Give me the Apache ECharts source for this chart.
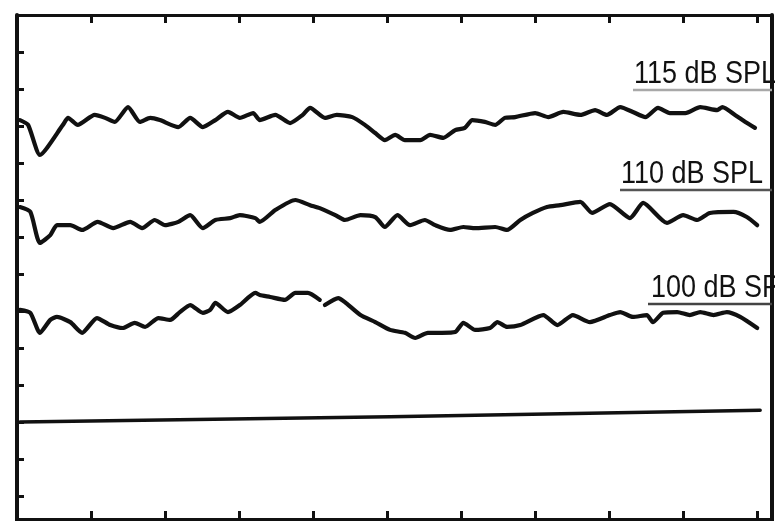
<!DOCTYPE html>
<html>
<head>
<meta charset="utf-8">
<script src="https://cdn.jsdelivr.net/npm/echarts@6/dist/echarts.min.js"></script>
<style>
html,body{margin:0;padding:0;background:#fff;}
#chart{width:784px;height:521px;}
</style>
</head>
<body>
<div id="chart"></div>
<script>
// Series values: [time, amplitude]
const curve115 = [[0.4,8.16],[1.5,8.03],[3.1,7.22],[6.2,8.03],[6.9,8.22],[8.2,8.03],[10.5,8.30],[11.9,8.22],[13.2,8.11],[15.0,8.51],[16.6,8.11],[18.0,8.22],[19.3,8.16],[21.8,7.97],[23.4,8.22],[25.1,7.97],[26.8,8.16],[28.5,8.38],[30.1,8.22],[31.9,8.35],[32.8,8.16],[34.9,8.30],[36.9,8.08],[38.6,8.30],[39.6,8.49],[41.6,8.22],[43.2,8.30],[45.3,8.24],[47.0,8.03],[48.4,7.81],[49.7,7.62],[51.1,7.76],[52.4,7.62],[54.5,7.62],[55.8,7.76],[57.6,7.68],[59.2,7.89],[60.5,7.95],[61.5,8.16],[63.2,8.11],[64.6,8.03],[65.9,8.22],[67.3,8.24],[70.0,8.35],[71.8,8.24],[73.8,8.38],[76.1,8.30],[78.1,8.43],[79.7,8.30],[81.5,8.51],[83.2,8.38],[84.9,8.24],[86.6,8.49],[88.2,8.35],[90.3,8.35],[92.3,8.51],[94.6,8.43],[95.3,8.51],[97.0,8.30],[98.4,8.11],[99.7,7.95]];
const curve110 = [[0.4,5.81],[1.8,5.68],[3.1,4.84],[4.5,5.05],[5.4,5.32],[7.2,5.32],[8.8,5.19],[10.9,5.41],[13.0,5.24],[15.3,5.41],[16.9,5.24],[18.6,5.46],[20.0,5.32],[21.8,5.41],[23.4,5.59],[25.1,5.24],[26.8,5.46],[28.8,5.51],[30.1,5.59],[32.2,5.51],[32.8,5.41],[34.9,5.73],[37.6,6.00],[39.6,5.86],[40.9,5.78],[43.0,5.59],[44.3,5.46],[46.4,5.59],[48.4,5.54],[49.7,5.27],[51.4,5.59],[53.1,5.32],[55.1,5.46],[56.5,5.32],[58.5,5.19],[60.3,5.27],[61.9,5.24],[64.6,5.27],[66.2,5.19],[68.0,5.46],[69.7,5.65],[71.6,5.81],[73.4,5.86],[76.1,5.95],[77.7,5.65],[80.1,5.89],[82.8,5.51],[84.6,5.92],[87.8,5.38],[90.0,5.59],[91.9,5.46],[93.6,5.65],[96.8,5.68],[98.6,5.54],[100.0,5.32]];
const curve100 = [[0.4,3.03],[1.8,2.95],[3.1,2.41],[4.5,2.76],[5.4,2.84],[7.2,2.70],[8.8,2.41],[10.8,2.81],[12.6,2.62],[14.3,2.54],[15.9,2.68],[17.3,2.57],[19.1,2.81],[20.7,2.76],[22.0,2.97],[23.4,3.16],[25.1,2.95],[26.1,3.03],[26.8,3.22],[28.5,2.97],[30.1,3.16],[32.2,3.49],[32.8,3.43],[34.2,3.38],[36.2,3.30],[37.6,3.49],[39.3,3.49],[40.9,3.30],[41.2,'-'],[41.6,3.16],[43.4,3.35],[44.3,3.24],[46.4,2.89],[48.4,2.70],[50.4,2.49],[52.4,2.41],[53.8,2.27],[55.5,2.41],[57.4,2.41],[59.2,2.43],[60.3,2.68],[61.9,2.49],[63.9,2.54],[64.9,2.70],[66.2,2.57],[68.0,2.62],[71.1,2.89],[73.0,2.62],[75.1,2.89],[77.4,2.70],[80.1,2.89],[81.5,2.97],[83.2,2.84],[85.1,2.89],[85.9,2.70],[87.3,2.95],[89.2,2.97],[90.9,2.89],[92.3,2.97],[94.1,2.89],[95.9,2.97],[97.7,2.84],[100.0,2.54]];
const baseline = [[0.4,0],[50.4,0.14],[100.4,0.32]];
const labels = ['115 dB SPL','110 dB SPL','100 dB SPL'];

const xMin = 0, xMax = 102, xStep = 10;
const yMin = -3, yMax = 11, yStep = 1;

const chart = echarts.init(document.getElementById('chart'), null, {renderer:'canvas'});
const ink = '#111';
const frameX = {
  type:'value', min:xMin, max:xMax, interval:xStep,
  axisLine:{show:true, onZero:false, lineStyle:{color:ink, width:3}},
  axisTick:{show:true, inside:true, length:8, lineStyle:{color:ink, width:3}},
  axisLabel:{show:false}, splitLine:{show:false}
};
const lineSeries = (data, w) => ({
  type:'line', data:data, symbol:'none', smooth:0.2,
  lineStyle:{color:ink, width:w, join:'round', cap:'round'},
  emphasis:{disabled:true}, silent:true, animation:false
});
const labelFont = '31px "Liberation Sans", Arial, sans-serif';
const textEl = (t, x, y) => ({
  type:'text', x:x, y:y, scaleX:0.87, z:50,
  style:{text:t, font:labelFont, fill:'#111', verticalAlign:'middle', align:'left'}
});
const ulEl = (x1, x2, y, c) => ({
  type:'line', z:50, shape:{x1:x1, y1:y, x2:x2, y2:y}, style:{stroke:c, lineWidth:2.5}
});

chart.setOption({
  animation:false,
  backgroundColor:'#fff',
  grid:{left:17, right:12, top:15, bottom:-12, containLabel:false, outerBoundsMode:'none'},
  xAxis:[
    Object.assign({position:'bottom', offset:-14}, frameX),
    Object.assign({position:'top'}, frameX)
  ],
  yAxis:[
    {type:'value', position:'left', min:yMin, max:yMax, interval:yStep,
     axisLine:{show:true, onZero:false, lineStyle:{color:ink, width:4}},
     axisTick:{show:true, inside:true, length:7, lineStyle:{color:ink, width:3}},
     axisLabel:{show:false}, splitLine:{show:false}},
    {type:'value', position:'right', min:yMin, max:yMax, interval:yStep,
     axisLine:{show:true, onZero:false, lineStyle:{color:ink, width:4}},
     axisTick:{show:false}, axisLabel:{show:false}, splitLine:{show:false}}
  ],
  series:[
    lineSeries(curve115, 4.2),
    lineSeries(curve110, 4.2),
    lineSeries(curve100, 4.2),
    Object.assign(lineSeries(baseline, 3.5), {smooth:false})
  ],
  graphic:[
    textEl(labels[0], 634, 74),
    ulEl(633, 772, 90, '#a8a8a8'),
    textEl(labels[1], 621, 174),
    ulEl(620, 772, 190, '#555'),
    textEl(labels[2], 651, 288),
    ulEl(648, 772, 304, '#444'),
    {type:'rect', z:60, shape:{x:775, y:0, width:9, height:521}, style:{fill:'#fff'}}
  ]
});
</script>
</body>
</html>
